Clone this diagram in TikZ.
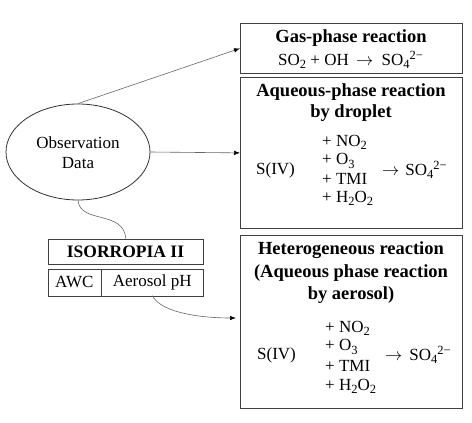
\documentclass[tikz,border=0pt]{standalone}
\usepackage{fontspec}
\setmainfont{Liberation Serif}
\usetikzlibrary{shapes.geometric,arrows.meta,calc}
\newcommand{\sbs}[1]{\raisebox{-3.2pt}{\fontsize{12.5}{12.5}\selectfont #1}}
\newcommand{\sps}[1]{\raisebox{6.5pt}{\fontsize{12.5}{12.5}\selectfont #1}}
\newcommand{\sulf}{SO\sbs{4}\sps{2\textminus}}
\begin{document}
\begin{tikzpicture}[x=1pt,y=-1pt,
  box/.style={draw=black!75,line width=0.8pt,inner sep=0pt,anchor=north west},
  ttl/.style={font=\fontsize{18.5}{21}\selectfont\bfseries,inner sep=0pt},
  txt/.style={font=\fontsize{17}{20}\selectfont,inner sep=0pt},
  frm/.style={font=\fontsize{17}{19}\selectfont,inner sep=0pt},
  conn/.style={draw=black!60,line width=0.6pt,-{Latex[length=6pt,width=4.5pt,color=black]}},
  link/.style={draw=black!60,line width=0.6pt}]
\useasboundingbox (0,0) rectangle (472,423);
\fill[white] (0,0) rectangle (472,423);
% ellipse
\node[ellipse,draw=black!80,line width=0.8pt,minimum width=144pt,minimum height=96pt,inner sep=0pt] (obs) at (78,152) {};
\node[txt] (obs1) at (78,143) {Observation};
\node[txt] (obs2) at (78,163) {Data};
% boxes
\node[box,minimum width=221.7pt,minimum height=50.6pt] (b1) at (240,22.7) {};
\node[box,minimum width=221.7pt,minimum height=150.4pt] (b2) at (240,77.3) {};
\node[box,minimum width=221.7pt,minimum height=173.3pt] (b3) at (240,235) {};
% box 1
\node[ttl] (t1) at (351,38) {Gas-phase reaction};
\node[frm,anchor=west] (f1) at (278,60) {SO\sbs{2} + OH \hspace{3pt}$\rightarrow$\hspace{4pt} \sulf};
% box 2
\node[ttl] (t2a) at (351,92) {Aqueous-phase reaction};
\node[ttl] (t2b) at (351,113) {by droplet};
\node[frm,anchor=west] (s2) at (256,170) {S(IV)};
\node[frm,anchor=west] (a2) at (322,142) {+ NO\sbs{2}};
\node[frm,anchor=west] (b2l) at (322,161) {+ O\sbs{3}};
\node[frm,anchor=west] (c2) at (322,179) {+ TMI};
\node[frm,anchor=west] (d2) at (322,198) {+ H\sbs{2}O\sbs{2}};
\node[frm,anchor=west] (e2) at (382,170) {$\rightarrow$\hspace{6pt}\sulf};
% box 3
\node[ttl] (t3a) at (351,250) {Heterogeneous reaction};
\node[ttl] (t3b) at (351,273) {(Aqueous phase reaction};
\node[ttl] (t3c) at (351,295) {by aerosol)};
\node[frm,anchor=west] (s3) at (257,355) {S(IV)};
\node[frm,anchor=west] (a3) at (325,328) {+ NO\sbs{2}};
\node[frm,anchor=west] (b3l) at (325,347) {+ O\sbs{3}};
\node[frm,anchor=west] (c3) at (325,366) {+ TMI};
\node[frm,anchor=west] (d3) at (325,386) {+ H\sbs{2}O\sbs{2}};
\node[frm,anchor=west] (e3) at (385,355) {$\rightarrow$\hspace{7pt}\sulf};
% ISORROPIA
\node[box,minimum width=155.6pt,minimum height=25.6pt] (iso) at (47.7,238.7) {};
\node[ttl,font=\fontsize{17.5}{20}\selectfont\bfseries] (isot) at (125.5,251.5) {ISORROPIA II};
\node[box,minimum width=53.3pt,minimum height=27pt] (awc) at (47.7,268.7) {};
\node[box,minimum width=102.3pt,minimum height=27pt] (aph) at (101,268.7) {};
\node[txt] (awct) at (74.3,282.2) {AWC};
\node[txt] (apht) at (152.2,282.2) {Aerosol pH};
% connectors
\draw[conn] (obs.north) -- (b1.west);
\draw[conn] (obs.east) -- (b2.west);
\coordinate (isotop) at (125.8,238.7);
\draw[link] (obs.south) .. controls (80,224) and (124,210) .. (isotop);
\coordinate (aphb) at (152.3,295.7);
\coordinate (arr3) at (236,318);
\draw[conn] (aphb) .. controls (162,314) and (205,318) .. (arr3);
\end{tikzpicture}
\end{document}
